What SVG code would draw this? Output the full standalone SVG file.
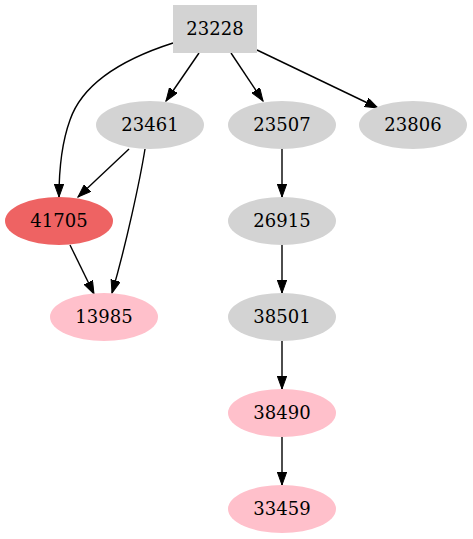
<svg xmlns="http://www.w3.org/2000/svg" width="473" height="539" viewBox="0 0 473 539">
<style>
.lbl{font-family:"DejaVu Serif","Liberation Serif",serif;font-size:18px;fill:#000;text-anchor:middle}
.gray{fill:#d3d3d3}
.pink{fill:#ffc0cb}
.red{fill:#ee6363}
.e{fill:none;stroke:#000;stroke-width:1.4;marker-end:url(#ah)}
</style>
<defs>
<marker id="ah" markerUnits="userSpaceOnUse" markerWidth="14" markerHeight="10" refX="13" refY="4.7" orient="auto">
<path d="M0,0 L13,4.7 L0,9.4 z" fill="#000" stroke="#000" stroke-width="1"/>
</marker>
</defs>
<rect width="473" height="539" fill="#fff"/>
<g id="edges">
<path class="e" d="M173,43 C120,60 82,85 70,120 C62,142 59,170 59,197"/>
<path class="e" d="M199,53 L166,101"/>
<path class="e" d="M231,53 L263,101"/>
<path class="e" d="M257,50 L378,108"/>
<path class="e" d="M129,149 L78,197"/>
<path class="e" d="M145,149 C140,180 126,245 112,293"/>
<path class="e" d="M70,245 L94,294"/>
<path class="e" d="M282,149 L282,197"/>
<path class="e" d="M282,245 L282,293"/>
<path class="e" d="M282,341 L282,389"/>
<path class="e" d="M282,437 L282,485"/>
</g>
<g id="n23228"><rect class="gray" x="173" y="5" width="84" height="48"/><text class="lbl" x="215" y="35">23228</text></g>
<g id="n23461"><ellipse class="gray" cx="150" cy="125" rx="54" ry="24"/><text class="lbl" x="150" y="131">23461</text></g>
<g id="n23507"><ellipse class="gray" cx="282" cy="125" rx="54" ry="24"/><text class="lbl" x="282" y="131">23507</text></g>
<g id="n23806"><ellipse class="gray" cx="413" cy="125" rx="54" ry="24"/><text class="lbl" x="413" y="131">23806</text></g>
<g id="n41705"><ellipse class="red" cx="59" cy="221" rx="54" ry="24"/><text class="lbl" x="59" y="227">41705</text></g>
<g id="n13985"><ellipse class="pink" cx="104" cy="317" rx="54" ry="24"/><text class="lbl" x="104" y="323">13985</text></g>
<g id="n26915"><ellipse class="gray" cx="282" cy="221" rx="54" ry="24"/><text class="lbl" x="282" y="227">26915</text></g>
<g id="n38501"><ellipse class="gray" cx="282" cy="317" rx="54" ry="24"/><text class="lbl" x="282" y="323">38501</text></g>
<g id="n38490"><ellipse class="pink" cx="282" cy="413" rx="54" ry="24"/><text class="lbl" x="282" y="419">38490</text></g>
<g id="n33459"><ellipse class="pink" cx="282" cy="509" rx="54" ry="24"/><text class="lbl" x="282" y="515">33459</text></g>
</svg>
